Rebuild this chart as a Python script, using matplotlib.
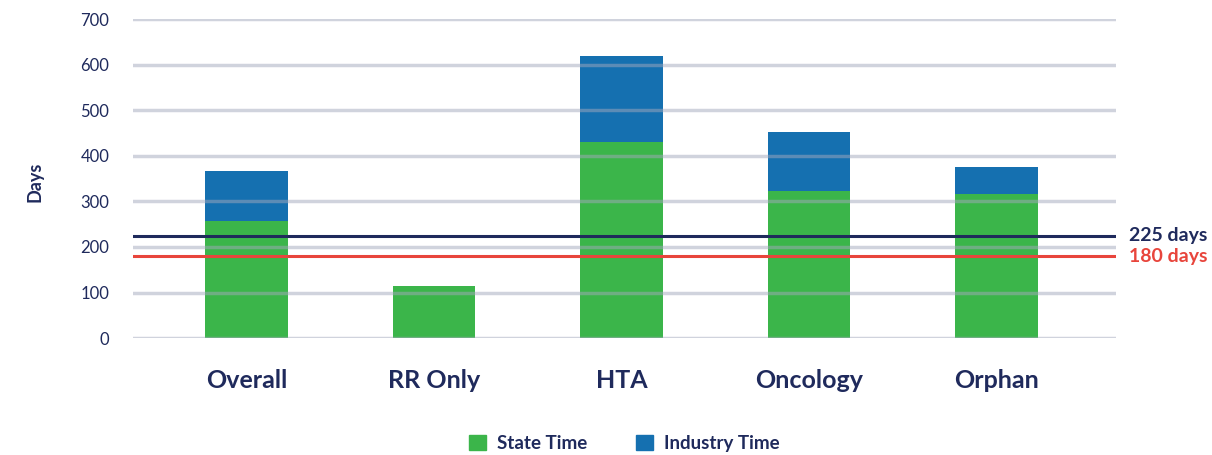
import numpy as np
import matplotlib.pyplot as plt
from matplotlib.patches import Patch

plt.rcParams["font.family"] = ["Lato", "DejaVu Sans"]

categories = ["Overall", "RR Only", "HTA", "Oncology", "Orphan"]
state_time = [257, 114, 430, 322, 317]
industry_time = [109, 0, 188, 130, 59]
target_lines = [225, 180]
target_labels = ["225 days", "180 days"]
yticks = [0, 100, 200, 300, 400, 500, 600, 700]

GREEN = "#3bb54a"
BLUE = "#1570b0"
NAVY = "#1f2a5c"
RED = "#e8453c"
GRID = "#a3a8bc"

fig = plt.figure(figsize=(12.12, 4.55), dpi=100)
ax = fig.add_axes([0.1097, 0.257, 0.8113, 0.701])

x = np.arange(len(categories))
width = 0.44
ax.bar(x, state_time, width, color=GREEN, zorder=2)
ax.bar(x, industry_time, width, bottom=state_time, color=BLUE, zorder=2)

# gridlines sit over the bars, semi-transparent
for t in yticks:
    ax.axhline(t, color=GRID, lw=2.5, alpha=0.5, zorder=3)

line_colors = [NAVY, RED]
for val, lab, col in zip(target_lines, target_labels, line_colors):
    ax.axhline(val, color=col, lw=2.2, zorder=4)
    ax.text(1.013, val, lab, transform=ax.get_yaxis_transform(), color=col,
            fontsize=14, fontweight="bold", va="center", ha="left")

ax.set_xlim(-0.605, 4.64)
ax.set_ylim(0, 700)
ax.set_yticks(yticks)
ax.tick_params(axis="y", length=0, pad=17, labelsize=12, labelcolor=NAVY)
ax.set_xticks(x)
ax.set_xticklabels(categories, fontsize=18, fontweight="bold", color=NAVY)
ax.tick_params(axis="x", length=0, pad=22)
for s in ax.spines.values():
    s.set_visible(False)

fig.text(0.029, 0.6, "Days", rotation=90, ha="center", va="center",
         fontsize=13, fontweight="bold", color=NAVY)

handles = [Patch(color=GREEN, label="State Time"), Patch(color=BLUE, label="Industry Time")]
leg = fig.legend(handles=handles, loc="center", bbox_to_anchor=(0.515, 0.026),
                 ncol=2, frameon=False, fontsize=13.5, handlelength=0.9,
                 handleheight=0.9, handletextpad=0.6, columnspacing=2.6)
for t in leg.get_texts():
    t.set_color(NAVY)
    t.set_fontweight("bold")

fig.savefig("out.png", dpi=100)
